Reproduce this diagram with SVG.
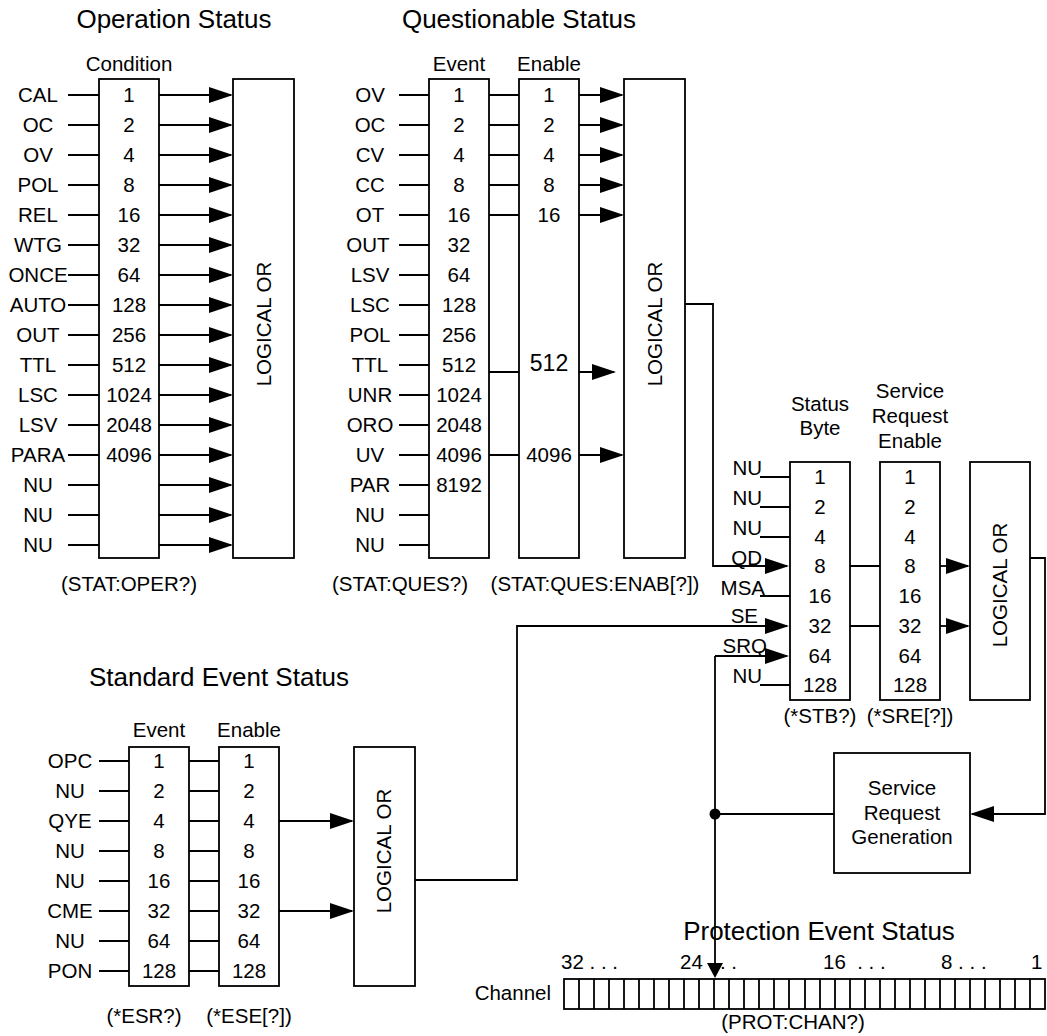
<svg xmlns="http://www.w3.org/2000/svg" width="1047" height="1036" viewBox="0 0 1047 1036">
<style>
text{font-family:"Liberation Sans",Arial,sans-serif;font-size:20.5px;fill:#000}
.c{text-anchor:middle}
.e{text-anchor:end}
.ttl{font-size:26px;text-anchor:middle}
.box{fill:#fff;stroke:#000;stroke-width:1.8}
.ln{fill:none;stroke:#000;stroke-width:1.8}
.a{marker-end:url(#arr)}
</style>
<defs>
<marker id="arr" markerUnits="userSpaceOnUse" markerWidth="24" markerHeight="16" refX="22" refY="8" orient="auto" viewBox="0 0 24 16"><path d="M0,0 L24,8 L0,16 z" fill="#000"/></marker>
<marker id="arrS" markerUnits="userSpaceOnUse" markerWidth="15" markerHeight="16" refX="13" refY="8" orient="auto" viewBox="0 0 15 16"><path d="M0,0 L15,8 L0,16 z" fill="#000"/></marker>
</defs>
<rect width="1047" height="1036" fill="#fff"/>

<!-- titles and captions -->
<g id="titles">
<text class="ttl" x="174" y="28">Operation Status</text>
<text class="ttl" x="519" y="28">Questionable Status</text>
<text class="ttl" x="219" y="686">Standard Event Status</text>
<text class="c" x="129" y="71">Condition</text>
<text class="c" x="459" y="71">Event</text>
<text class="c" x="549" y="71">Enable</text>
<text class="c" x="159" y="737">Event</text>
<text class="c" x="249" y="737">Enable</text>
<text class="c" x="820" y="411">Status</text>
<text class="c" x="820" y="435">Byte</text>
<text class="c" x="910" y="398">Service</text>
<text class="c" x="910" y="423">Request</text>
<text class="c" x="910" y="448">Enable</text>
<text class="c" x="129" y="591">(STAT:OPER?)</text>
<text class="c" x="400" y="591">(STAT:QUES?)</text>
<text class="c" x="595" y="591">(STAT:QUES:ENAB[?])</text>
<text class="c" x="820" y="723">(*STB?)</text>
<text class="c" x="910" y="723">(*SRE[?])</text>
<text class="c" x="144" y="1023">(*ESR?)</text>
<text class="c" x="249" y="1023">(*ESE[?])</text>
</g>

<!-- Operation status labels -->
<g id="op-labels">
<text class="c" x="38" y="102">CAL</text>
<text class="c" x="38" y="132">OC</text>
<text class="c" x="38" y="162">OV</text>
<text class="c" x="38" y="192">POL</text>
<text class="c" x="38" y="222">REL</text>
<text class="c" x="38" y="252">WTG</text>
<text class="c" x="38" y="282">ONCE</text>
<text class="c" x="38" y="312">AUTO</text>
<text class="c" x="38" y="342">OUT</text>
<text class="c" x="38" y="372">TTL</text>
<text class="c" x="38" y="402">LSC</text>
<text class="c" x="38" y="432">LSV</text>
<text class="c" x="38" y="462">PARA</text>
<text class="c" x="38" y="492">NU</text>
<text class="c" x="38" y="522">NU</text>
<text class="c" x="38" y="552">NU</text>
</g>

<g id="op-condition">
<rect class="box" x="99" y="79" width="60" height="479"/>
<text class="c" x="129" y="102">1</text>
<text class="c" x="129" y="132">2</text>
<text class="c" x="129" y="162">4</text>
<text class="c" x="129" y="192">8</text>
<text class="c" x="129" y="222">16</text>
<text class="c" x="129" y="252">32</text>
<text class="c" x="129" y="282">64</text>
<text class="c" x="129" y="312">128</text>
<text class="c" x="129" y="342">256</text>
<text class="c" x="129" y="372">512</text>
<text class="c" x="129" y="402">1024</text>
<text class="c" x="129" y="432">2048</text>
<text class="c" x="129" y="462">4096</text>
</g>

<g id="op-or">
<rect class="box" x="233" y="79" width="61" height="479"/>
<text class="c" transform="translate(271,324) rotate(-90)">LOGICAL OR</text>
</g>

<!-- Questionable status -->
<g id="qs-labels">
<text class="c" x="370" y="102">OV</text>
<text class="c" x="370" y="132">OC</text>
<text class="c" x="370" y="162">CV</text>
<text class="c" x="370" y="192">CC</text>
<text class="c" x="370" y="222">OT</text>
<text class="c" x="368" y="252">OUT</text>
<text class="c" x="370" y="282">LSV</text>
<text class="c" x="370" y="312">LSC</text>
<text class="c" x="370" y="342">POL</text>
<text class="c" x="370" y="372">TTL</text>
<text class="c" x="370" y="402">UNR</text>
<text class="c" x="370" y="432">ORO</text>
<text class="c" x="370" y="462">UV</text>
<text class="c" x="370" y="492">PAR</text>
<text class="c" x="370" y="522">NU</text>
<text class="c" x="370" y="552">NU</text>
</g>

<g id="qs-event">
<rect class="box" x="429" y="79" width="60" height="479"/>
<text class="c" x="459" y="102">1</text>
<text class="c" x="459" y="132">2</text>
<text class="c" x="459" y="162">4</text>
<text class="c" x="459" y="192">8</text>
<text class="c" x="459" y="222">16</text>
<text class="c" x="459" y="252">32</text>
<text class="c" x="459" y="282">64</text>
<text class="c" x="459" y="312">128</text>
<text class="c" x="459" y="342">256</text>
<text class="c" x="459" y="372">512</text>
<text class="c" x="459" y="402">1024</text>
<text class="c" x="459" y="432">2048</text>
<text class="c" x="459" y="462">4096</text>
<text class="c" x="459" y="492">8192</text>
</g>

<g id="qs-enable">
<rect class="box" x="519" y="79" width="60" height="479"/>
<text class="c" x="549" y="102">1</text>
<text class="c" x="549" y="132">2</text>
<text class="c" x="549" y="162">4</text>
<text class="c" x="549" y="192">8</text>
<text class="c" x="549" y="222">16</text>
<text class="c" x="549" y="371" style="font-size:23px">512</text>
<text class="c" x="549" y="462">4096</text>
</g>

<g id="qs-or">
<rect class="box" x="624" y="79" width="61" height="479"/>
<text class="c" transform="translate(662,324) rotate(-90)">LOGICAL OR</text>
</g>

<!-- Status byte -->
<g id="sb-labels">
<text class="e" x="762" y="475">NU</text>
<text class="e" x="762" y="505">NU</text>
<text class="e" x="762" y="535">NU</text>
<text class="e" x="762" y="565">QD</text>
<text class="e" x="765" y="595">MSA</text>
<text class="e" x="758" y="623">SE</text>
<text class="e" x="767" y="653">SRQ</text>
<text class="e" x="762" y="683">NU</text>
</g>

<g id="status-byte">
<rect class="box" x="790" y="462" width="60" height="238"/>
<text class="c" x="820" y="484">1</text>
<text class="c" x="820" y="514">2</text>
<text class="c" x="820" y="544">4</text>
<text class="c" x="820" y="573">8</text>
<text class="c" x="820" y="603">16</text>
<text class="c" x="820" y="633">32</text>
<text class="c" x="820" y="663">64</text>
<text class="c" x="820" y="692">128</text>
</g>

<g id="sre">
<rect class="box" x="880" y="462" width="60" height="238"/>
<text class="c" x="910" y="484">1</text>
<text class="c" x="910" y="514">2</text>
<text class="c" x="910" y="544">4</text>
<text class="c" x="910" y="573">8</text>
<text class="c" x="910" y="603">16</text>
<text class="c" x="910" y="633">32</text>
<text class="c" x="910" y="663">64</text>
<text class="c" x="910" y="692">128</text>
</g>

<g id="sb-or">
<rect class="box" x="970" y="462" width="60" height="238"/>
<text class="c" transform="translate(1007,585) rotate(-90)">LOGICAL OR</text>
</g>

<g id="srg">
<rect class="box" x="834" y="753" width="136" height="120"/>
<text class="c" x="902" y="795">Service</text>
<text class="c" x="902" y="820">Request</text>
<text class="c" x="902" y="844">Generation</text>
</g>

<!-- Standard event status -->
<g id="se-labels">
<text class="c" x="70" y="768">OPC</text>
<text class="c" x="70" y="798">NU</text>
<text class="c" x="70" y="828">QYE</text>
<text class="c" x="70" y="858">NU</text>
<text class="c" x="70" y="888">NU</text>
<text class="c" x="70" y="918">CME</text>
<text class="c" x="70" y="948">NU</text>
<text class="c" x="70" y="978">PON</text>
</g>

<g id="se-event">
<rect class="box" x="129" y="747" width="60" height="239"/>
<text class="c" x="159" y="768">1</text>
<text class="c" x="159" y="798">2</text>
<text class="c" x="159" y="828">4</text>
<text class="c" x="159" y="858">8</text>
<text class="c" x="159" y="888">16</text>
<text class="c" x="159" y="918">32</text>
<text class="c" x="159" y="948">64</text>
<text class="c" x="159" y="978">128</text>
</g>

<g id="se-enable">
<rect class="box" x="219" y="747" width="60" height="239"/>
<text class="c" x="249" y="768">1</text>
<text class="c" x="249" y="798">2</text>
<text class="c" x="249" y="828">4</text>
<text class="c" x="249" y="858">8</text>
<text class="c" x="249" y="888">16</text>
<text class="c" x="249" y="918">32</text>
<text class="c" x="249" y="948">64</text>
<text class="c" x="249" y="978">128</text>
</g>

<g id="se-or">
<rect class="box" x="354" y="747" width="61" height="239"/>
<text class="c" transform="translate(391,851) rotate(-90)">LOGICAL OR</text>
</g>

<!-- Protection event status -->
<g id="channel">
<text class="ttl" x="819" y="940">Protection Event Status</text>
<text x="561" y="969">32 . . .</text>
<text x="680" y="969">24 . . .</text>
<text x="823" y="969" xml:space="preserve">16  . . .</text>
<text x="941" y="969">8 . . .</text>
<text x="1031" y="969">1</text>
<text class="e" x="551" y="1000">Channel</text>
<rect class="box" x="564" y="979" width="481" height="30"/>
<path class="ln" d="M579,979V1009M594,979V1009M609,979V1009M624,979V1009M639,979V1009M654,979V1009M669,979V1009M684,979V1009M699,979V1009M714,979V1009M729,979V1009M744,979V1009M759,979V1009M774,979V1009M789,979V1009M805,979V1009M820,979V1009M835,979V1009M850,979V1009M865,979V1009M880,979V1009M895,979V1009M910,979V1009M925,979V1009M940,979V1009M955,979V1009M970,979V1009M985,979V1009M1000,979V1009M1015,979V1009M1030,979V1009"/>
<text class="c" x="793" y="1029">(PROT:CHAN?)</text>
</g>

<g id="connectors">
<!-- operation inputs -->
<path class="ln" d="M68,95H99M68,125H99M68,155H99M68,185H99M68,215H99M68,245H99M68,275H99M68,305H99M68,335H99M68,365H99M68,395H99M68,425H99M68,455H99M68,485H99M68,515H99M68,545H99"/>
<!-- operation outputs -->
<path class="ln a" d="M159,95H231"/>
<path class="ln a" d="M159,125H231"/>
<path class="ln a" d="M159,155H231"/>
<path class="ln a" d="M159,185H231"/>
<path class="ln a" d="M159,215H231"/>
<path class="ln a" d="M159,245H231"/>
<path class="ln a" d="M159,275H231"/>
<path class="ln a" d="M159,305H231"/>
<path class="ln a" d="M159,335H231"/>
<path class="ln a" d="M159,365H231"/>
<path class="ln a" d="M159,395H231"/>
<path class="ln a" d="M159,425H231"/>
<path class="ln a" d="M159,455H231"/>
<path class="ln a" d="M159,485H231"/>
<path class="ln a" d="M159,515H231"/>
<path class="ln a" d="M159,545H231"/>
<!-- questionable inputs -->
<path class="ln" d="M399,95H429M399,125H429M399,155H429M399,185H429M399,215H429M399,245H429M399,275H429M399,305H429M399,335H429M399,365H429M399,395H429M399,425H429M399,455H429M399,485H429M399,515H429M399,545H429"/>
<!-- questionable event to enable -->
<path class="ln" d="M489,95H519M489,125H519M489,155H519M489,185H519M489,215H519M489,372H519M489,455H519"/>
<path class="ln a" d="M579,95H622"/>
<path class="ln a" d="M579,125H622"/>
<path class="ln a" d="M579,155H622"/>
<path class="ln a" d="M579,185H622"/>
<path class="ln a" d="M579,215H622"/>
<path class="ln a" d="M579,372H614"/>
<path class="ln a" d="M579,455H622"/>
<!-- questionable summary to QD -->
<path class="ln a" d="M685,304H713V566H787"/>
<!-- status byte label stubs -->
<path class="ln" d="M760,477H790M760,507H790M760,537H790M760,596H790M760,685H790"/>
<!-- status byte to SRE -->
<path class="ln" d="M850,566H880M850,626H880"/>
<path class="ln a" d="M940,566H968"/>
<path class="ln a" d="M940,626H968"/>
<!-- status OR to SRG -->
<path class="ln a" d="M1030,558H1045V814H972"/>
<!-- SRG to SRQ and channel -->
<path class="ln" d="M834,814H715"/>
<path class="ln a" d="M715,656H787"/>
<path class="ln" d="M715,656V976" marker-end="url(#arrS)"/>
<circle cx="715" cy="814" r="5.5" fill="#000"/>
<!-- standard event -->
<path class="ln" d="M99,761H129M99,791H129M99,821H129M99,851H129M99,881H129M99,911H129M99,941H129M99,971H129"/>
<path class="ln" d="M189,761H219M189,791H219M189,821H219M189,851H219M189,881H219M189,911H219M189,941H219M189,971H219"/>
<path class="ln a" d="M279,821H352"/>
<path class="ln a" d="M279,911H352"/>
<path class="ln a" d="M415,880H517V626H787"/>
</g>
</svg>
